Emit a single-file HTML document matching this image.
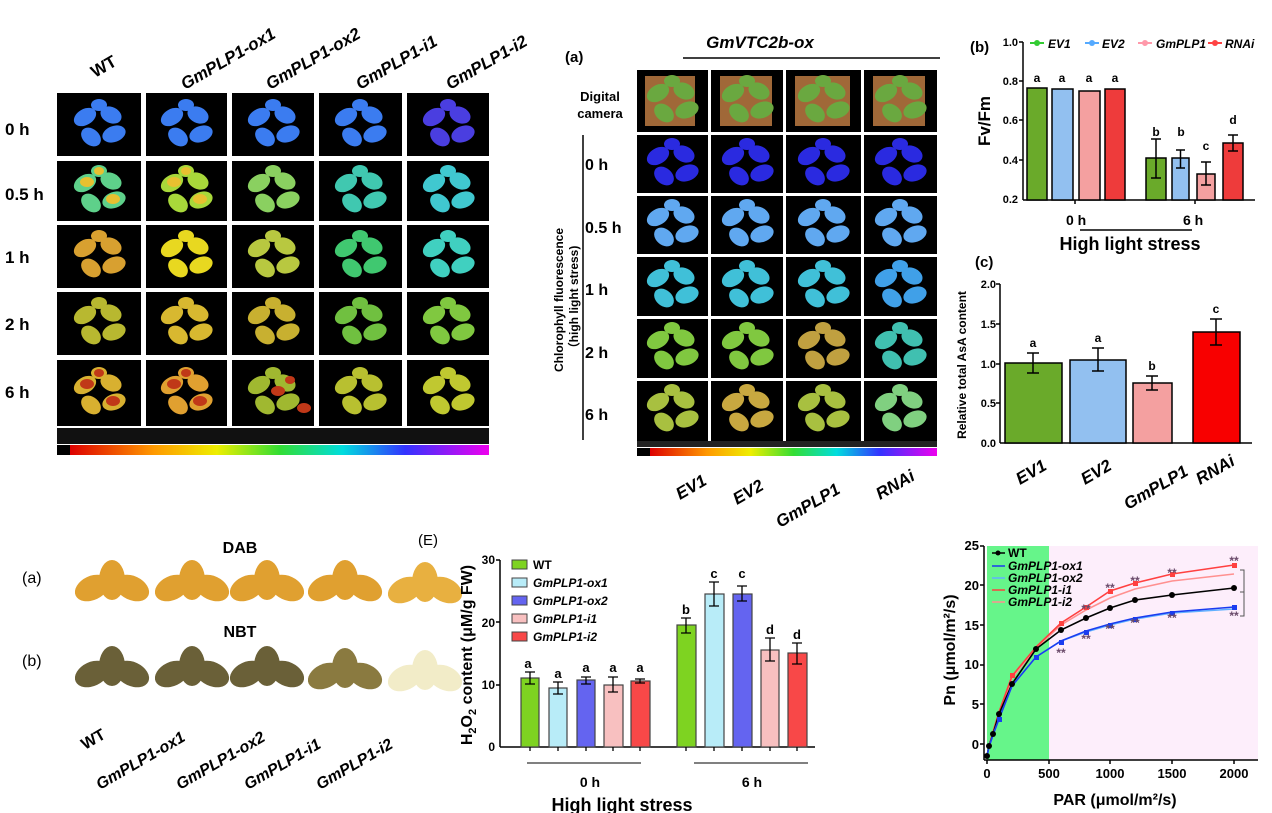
<!DOCTYPE html>
<html><head><meta charset="utf-8"><style>
body{margin:0;background:#fff;}
svg{display:block;font-family:"Liberation Sans",Arial,sans-serif;font-weight:bold;}
</style></head><body>
<svg width="1272" height="813" viewBox="0 0 1272 813" xmlns="http://www.w3.org/2000/svg">
<defs>
<g id="pl"><ellipse cx="-14" cy="-8" rx="12" ry="8" transform="rotate(-30 -14 -8)"/><ellipse cx="12" cy="-10" rx="11" ry="8" transform="rotate(25 12 -10)"/><ellipse cx="-8" cy="12" rx="11" ry="8" transform="rotate(40 -8 12)"/><ellipse cx="15" cy="9" rx="12" ry="8" transform="rotate(-20 15 9)"/><ellipse cx="0" cy="-20" rx="8" ry="6"/></g>
<g id="pl2"><ellipse cx="-12" cy="-9" rx="7" ry="5"/><ellipse cx="14" cy="8" rx="7" ry="5"/><ellipse cx="0" cy="-20" rx="5" ry="4"/></g>
<linearGradient id="rb" x1="0" x2="1"><stop offset="0" stop-color="#d00"/><stop offset=".2" stop-color="#f90"/><stop offset=".35" stop-color="#ee0"/><stop offset=".5" stop-color="#3d3"/><stop offset=".65" stop-color="#0dd"/><stop offset=".8" stop-color="#33f"/><stop offset="1" stop-color="#e0e"/></linearGradient>
<g id="lf"><ellipse cx="-20" cy="4" rx="18" ry="12" transform="rotate(-25 -20 4)"/><ellipse cx="0" cy="-4" rx="13" ry="20"/><ellipse cx="20" cy="4" rx="18" ry="12" transform="rotate(25 20 4)"/></g>
</defs>

<!-- TOP LEFT -->
<g font-size="17" font-style="italic">
<text transform="translate(95,78) rotate(-30)" font-style="normal">WT</text>
<text transform="translate(185,90) rotate(-30)">GmPLP1-ox1</text>
<text transform="translate(270,90) rotate(-30)">GmPLP1-ox2</text>
<text transform="translate(360,90) rotate(-30)">GmPLP1-i1</text>
<text transform="translate(450,90) rotate(-30)">GmPLP1-i2</text>
</g>
<g font-size="17"><text x="5" y="135">0 h</text><text x="5" y="200">0.5 h</text><text x="5" y="263">1 h</text><text x="5" y="330">2 h</text><text x="5" y="398">6 h</text></g>
<g fill="#000">
<rect x="57" y="93" width="84" height="63"/><rect x="146" y="93" width="81" height="63"/><rect x="232" y="93" width="82" height="63"/><rect x="319" y="93" width="83" height="63"/><rect x="407" y="93" width="82" height="63"/>
<rect x="57" y="161" width="84" height="60"/><rect x="146" y="161" width="81" height="60"/><rect x="232" y="161" width="82" height="60"/><rect x="319" y="161" width="83" height="60"/><rect x="407" y="161" width="82" height="60"/>
<rect x="57" y="225" width="84" height="63"/><rect x="146" y="225" width="81" height="63"/><rect x="232" y="225" width="82" height="63"/><rect x="319" y="225" width="83" height="63"/><rect x="407" y="225" width="82" height="63"/>
<rect x="57" y="292" width="84" height="63"/><rect x="146" y="292" width="81" height="63"/><rect x="232" y="292" width="82" height="63"/><rect x="319" y="292" width="83" height="63"/><rect x="407" y="292" width="82" height="63"/>
<rect x="57" y="360" width="84" height="66"/><rect x="146" y="360" width="81" height="66"/><rect x="232" y="360" width="82" height="66"/><rect x="319" y="360" width="83" height="66"/><rect x="407" y="360" width="82" height="66"/>
<rect x="57" y="428" width="432" height="16" fill="#111"/>
</g>
<rect x="70" y="445" width="419" height="10" fill="url(#rb)"/><rect x="57" y="445" width="13" height="10" fill="#000"/>
<g fill="#3b7cf0"><use href="#pl" x="99" y="125"/><use href="#pl" x="186" y="125"/><use href="#pl" x="273" y="125"/><use href="#pl" x="360" y="125"/><use href="#pl" x="448" y="125" fill="#4a3ee0"/></g>
<g fill="#5ed08a"><use href="#pl" x="99" y="191"/><use href="#pl" x="186" y="191" fill="#a8d83a"/><use href="#pl" x="273" y="191" fill="#8ad060"/><use href="#pl" x="360" y="191" fill="#40c8b0"/><use href="#pl" x="448" y="191" fill="#40c8d0"/></g>
<g fill="#e8c030"><use href="#pl2" x="99" y="191"/><use href="#pl2" x="186" y="191"/></g>
<g fill="#b8c840"><use href="#pl" x="99" y="256" fill="#d8a030"/><use href="#pl" x="186" y="256" fill="#e8d820"/><use href="#pl" x="273" y="256"/><use href="#pl" x="360" y="256" fill="#40c870"/><use href="#pl" x="448" y="256" fill="#40d0c0"/></g>
<g fill="#b8b830"><use href="#pl" x="99" y="323"/><use href="#pl" x="186" y="323" fill="#d8b830"/><use href="#pl" x="273" y="323" fill="#c8b030"/><use href="#pl" x="360" y="323" fill="#70c040"/><use href="#pl" x="448" y="323" fill="#80c840"/></g>
<g fill="#d8b030"><use href="#pl" x="99" y="393"/><use href="#pl" x="186" y="393" fill="#e0a030"/><use href="#pl" x="273" y="393" fill="#a0b830"/><use href="#pl" x="360" y="393" fill="#b8c030"/><use href="#pl" x="448" y="393" fill="#c0c830"/></g>
<g fill="#c03818"><use href="#pl2" x="99" y="393"/><use href="#pl2" x="186" y="393"/><use href="#pl2" x="290" y="400"/></g>

<!-- TOP MIDDLE -->
<text x="565" y="62" font-size="15">(a)</text>
<text x="760" y="48" font-size="17" font-style="italic" text-anchor="middle">GmVTC2b-ox</text>
<line x1="683" y1="58" x2="940" y2="58" stroke="#000" stroke-width="1.5"/>
<text x="600" y="101" font-size="13" text-anchor="middle">Digital</text><text x="600" y="118" font-size="13" text-anchor="middle">camera</text>
<g font-size="16"><text x="585" y="170">0 h</text><text x="585" y="233">0.5 h</text><text x="585" y="295">1 h</text><text x="585" y="358">2 h</text><text x="585" y="420">6 h</text></g>
<line x1="583" y1="135" x2="583" y2="440" stroke="#000" stroke-width="1.5"/>
<text transform="translate(563,300) rotate(-90)" font-size="12" text-anchor="middle">Chlorophyll fluorescence</text>
<text transform="translate(578,300) rotate(-90)" font-size="12" text-anchor="middle">（high light stress)</text>
<g fill="#000">
<rect x="637" y="70" width="71" height="62"/><rect x="711" y="70" width="72" height="62"/><rect x="786" y="70" width="75" height="62"/><rect x="864" y="70" width="73" height="62"/>
<rect x="637" y="135" width="71" height="58"/><rect x="711" y="135" width="72" height="58"/><rect x="786" y="135" width="75" height="58"/><rect x="864" y="135" width="73" height="58"/>
<rect x="637" y="196" width="71" height="58"/><rect x="711" y="196" width="72" height="58"/><rect x="786" y="196" width="75" height="58"/><rect x="864" y="196" width="73" height="58"/>
<rect x="637" y="257" width="71" height="59"/><rect x="711" y="257" width="72" height="59"/><rect x="786" y="257" width="75" height="59"/><rect x="864" y="257" width="73" height="59"/>
<rect x="637" y="319" width="71" height="59"/><rect x="711" y="319" width="72" height="59"/><rect x="786" y="319" width="75" height="59"/><rect x="864" y="319" width="73" height="59"/>
<rect x="637" y="381" width="71" height="60"/><rect x="711" y="381" width="72" height="60"/><rect x="786" y="381" width="75" height="60"/><rect x="864" y="381" width="73" height="60"/>
</g>
<g fill="#a06838"><rect x="645" y="76" width="50" height="50"/><rect x="720" y="76" width="52" height="50"/><rect x="795" y="76" width="55" height="50"/><rect x="873" y="76" width="52" height="50"/></g>
<g fill="#6aa840"><use href="#pl" x="672" y="101"/><use href="#pl" x="747" y="101"/><use href="#pl" x="823" y="101"/><use href="#pl" x="900" y="101"/></g>
<g fill="#2a2ae0"><use href="#pl" x="672" y="164"/><use href="#pl" x="747" y="164"/><use href="#pl" x="823" y="164"/><use href="#pl" x="900" y="164"/></g>
<g fill="#60a8f0"><use href="#pl" x="672" y="225"/><use href="#pl" x="747" y="225"/><use href="#pl" x="823" y="225"/><use href="#pl" x="900" y="225"/></g>
<g fill="#40c0d8"><use href="#pl" x="672" y="286"/><use href="#pl" x="747" y="286"/><use href="#pl" x="823" y="286"/><use href="#pl" x="900" y="286" fill="#40a0e8"/></g>
<g fill="#80c840"><use href="#pl" x="672" y="348"/><use href="#pl" x="747" y="348"/><use href="#pl" x="823" y="348" fill="#c0a040"/><use href="#pl" x="900" y="348" fill="#40c0b0"/></g>
<g fill="#a8c040"><use href="#pl" x="672" y="410"/><use href="#pl" x="747" y="410" fill="#c8a840"/><use href="#pl" x="823" y="410"/><use href="#pl" x="900" y="410" fill="#80d080"/></g>
<rect x="637" y="441" width="300" height="6" fill="#222"/>
<rect x="650" y="448" width="287" height="8" fill="url(#rb)"/><rect x="637" y="448" width="13" height="8" fill="#000"/>
<g font-size="17" font-style="italic">
<text transform="translate(680,500) rotate(-30)">EV1</text>
<text transform="translate(737,505) rotate(-30)">EV2</text>
<text transform="translate(780,528) rotate(-30)">GmPLP1</text>
<text transform="translate(880,500) rotate(-30)">RNAi</text>
</g>

<!-- CHART b -->
<text x="970" y="52" font-size="15">(b)</text>
<g font-size="12" font-style="italic">
<line x1="1030" y1="43" x2="1044" y2="43" stroke="#3c3" stroke-width="2"/><circle cx="1037" cy="43" r="3" fill="#3c3"/><text x="1048" y="48">EV1</text>
<line x1="1085" y1="43" x2="1099" y2="43" stroke="#5af" stroke-width="2"/><circle cx="1092" cy="43" r="3" fill="#5af"/><text x="1102" y="48">EV2</text>
<line x1="1138" y1="43" x2="1152" y2="43" stroke="#f9a" stroke-width="2"/><circle cx="1145" cy="43" r="3" fill="#f9a"/><text x="1156" y="48">GmPLP1</text>
<line x1="1208" y1="43" x2="1222" y2="43" stroke="#f44" stroke-width="2"/><circle cx="1215" cy="43" r="3" fill="#f44"/><text x="1225" y="48">RNAi</text>
</g>
<text transform="translate(990,121) rotate(-90)" font-size="17" text-anchor="middle">Fv/Fm</text>
<g font-size="11" text-anchor="end"><text x="1018" y="46">1.0</text><text x="1018" y="85">0.8</text><text x="1018" y="124">0.6</text><text x="1018" y="164">0.4</text><text x="1018" y="203">0.2</text></g>
<g stroke="#000" stroke-width="1.5"><line x1="1023" y1="42" x2="1023" y2="200"/><line x1="1019" y1="42" x2="1023" y2="42"/><line x1="1019" y1="81" x2="1023" y2="81"/><line x1="1019" y1="120" x2="1023" y2="120"/><line x1="1019" y1="160" x2="1023" y2="160"/><line x1="1023" y1="200" x2="1255" y2="200"/><line x1="1075" y1="200" x2="1075" y2="204"/><line x1="1195" y1="200" x2="1195" y2="204"/></g>
<g stroke="#000" stroke-width="1.5">
<rect x="1027" y="88" width="20" height="112" fill="#6aaa2a"/><rect x="1052" y="89" width="21" height="111" fill="#92c0f0"/><rect x="1079" y="91" width="21" height="109" fill="#f4a0a0"/><rect x="1105" y="89" width="20" height="111" fill="#ee3b3b"/>
<rect x="1146" y="158" width="20" height="42" fill="#6aaa2a"/><rect x="1172" y="158" width="17" height="42" fill="#92c0f0"/><rect x="1197" y="174" width="18" height="26" fill="#f4a0a0"/><rect x="1223" y="143" width="20" height="57" fill="#ee3b3b"/>
<path d="M1156 139V178M1151 139h10M1151 178h10M1180.5 150V168M1176 150h9M1176 168h9M1206 162V185M1201 162h10M1201 185h10M1233 135V151M1228 135h10M1228 151h10" fill="none"/>
</g>
<g font-size="12" text-anchor="middle"><text x="1037" y="82">a</text><text x="1062" y="82">a</text><text x="1089" y="82">a</text><text x="1115" y="82">a</text><text x="1156" y="136">b</text><text x="1181" y="136">b</text><text x="1206" y="150">c</text><text x="1233" y="124">d</text></g>
<text x="1066" y="225" font-size="14">0 h</text><text x="1183" y="225" font-size="14">6 h</text>
<line x1="1080" y1="230" x2="1192" y2="230" stroke="#000" stroke-width="1.5"/>
<text x="1130" y="250" font-size="18" text-anchor="middle">High light stress</text>

<!-- CHART c -->
<text x="975" y="267" font-size="15">(c)</text>
<text transform="translate(966,365) rotate(-90)" font-size="12" text-anchor="middle">Relative total AsA content</text>
<g font-size="11" text-anchor="end"><text x="996" y="288">2.0</text><text x="996" y="328">1.5</text><text x="996" y="368">1.0</text><text x="996" y="407">0.5</text><text x="996" y="447">0.0</text></g>
<g stroke="#000" stroke-width="1.5"><line x1="1000" y1="284" x2="1000" y2="443"/><line x1="996" y1="284" x2="1000" y2="284"/><line x1="996" y1="324" x2="1000" y2="324"/><line x1="996" y1="364" x2="1000" y2="364"/><line x1="996" y1="403" x2="1000" y2="403"/><line x1="1000" y1="443" x2="1252" y2="443"/></g>
<g stroke="#000" stroke-width="1.5">
<rect x="1005" y="363" width="57" height="80" fill="#6aaa2a"/><rect x="1070" y="360" width="56" height="83" fill="#92c0f0"/><rect x="1133" y="383" width="39" height="60" fill="#f4a0a0"/><rect x="1193" y="332" width="47" height="111" fill="#f80000"/>
<path d="M1033 353V373M1027 353h12M1027 373h12M1098 348V371M1092 348h12M1092 371h12M1152 376V390M1146 376h12M1146 390h12M1216 319V345M1210 319h12M1210 345h12" fill="none"/>
</g>
<g font-size="12" text-anchor="middle"><text x="1033" y="347">a</text><text x="1098" y="342">a</text><text x="1152" y="370">b</text><text x="1216" y="313">c</text></g>
<g font-size="17" font-style="italic">
<text transform="translate(1020,485) rotate(-30)">EV1</text>
<text transform="translate(1085,485) rotate(-30)">EV2</text>
<text transform="translate(1128,510) rotate(-30)">GmPLP1</text>
<text transform="translate(1200,485) rotate(-30)">RNAi</text>
</g>

<!-- BOTTOM LEFT -->
<text x="240" y="553" font-size="16" text-anchor="middle">DAB</text>
<text x="22" y="583" font-size="16" font-weight="normal">(a)</text>
<g fill="#e0a030"><use href="#lf" x="112" y="584"/><use href="#lf" x="192" y="584"/><use href="#lf" x="267" y="584"/><use href="#lf" x="345" y="584"/><use href="#lf" x="425" y="586" fill="#e8b040"/></g>
<text x="240" y="637" font-size="16" text-anchor="middle">NBT</text>
<text x="22" y="666" font-size="16" font-weight="normal">(b)</text>
<g fill="#6a6038"><use href="#lf" x="112" y="670"/><use href="#lf" x="192" y="670"/><use href="#lf" x="267" y="670"/><use href="#lf" x="345" y="672" fill="#8a7a40"/><use href="#lf" x="425" y="674" fill="#f2ecc8"/></g>
<g font-size="16" font-style="italic">
<text transform="translate(85,750) rotate(-30)" font-style="normal">WT</text>
<text transform="translate(100,790) rotate(-30)">GmPLP1-ox1</text>
<text transform="translate(180,790) rotate(-30)">GmPLP1-ox2</text>
<text transform="translate(248,790) rotate(-30)">GmPLP1-i1</text>
<text transform="translate(320,790) rotate(-30)">GmPLP1-i2</text>
</g>

<!-- CHART E -->
<text x="418" y="545" font-size="15" font-weight="normal">(E)</text>
<text transform="translate(472,655) rotate(-90)" font-size="16" text-anchor="middle">H<tspan font-size="11" dy="4">2</tspan><tspan dy="-4">O</tspan><tspan font-size="11" dy="4">2</tspan><tspan dy="-4"> content (μM/g FW)</tspan></text>
<g font-size="12" text-anchor="end"><text x="495" y="564">30</text><text x="495" y="627">20</text><text x="495" y="689">10</text><text x="495" y="751">0</text></g>
<g stroke="#000" stroke-width="1.5"><line x1="500" y1="560" x2="500" y2="747"/><line x1="496" y1="560" x2="500" y2="560"/><line x1="496" y1="622" x2="500" y2="622"/><line x1="496" y1="685" x2="500" y2="685"/><line x1="500" y1="747" x2="815" y2="747"/></g>
<g stroke="#444" stroke-width="1.2">
<rect x="521" y="678" width="18" height="69" fill="#7ed321"/><rect x="549" y="688" width="18" height="59" fill="#b8ecf8"/><rect x="577" y="680" width="18" height="67" fill="#6464f0"/><rect x="604" y="685" width="19" height="62" fill="#f8c0c0"/><rect x="631" y="681" width="19" height="66" fill="#f84848"/>
<rect x="677" y="625" width="19" height="122" fill="#7ed321"/><rect x="705" y="594" width="19" height="153" fill="#b8ecf8"/><rect x="733" y="594" width="19" height="153" fill="#6464f0"/><rect x="761" y="650" width="18" height="97" fill="#f8c0c0"/><rect x="788" y="653" width="19" height="94" fill="#f84848"/>
</g>
<g stroke="#000" stroke-width="1.3" fill="none"><path d="M530 672V684M525 672h10M525 684h10M558 682V694M553 682h10M553 694h10M586 677V684M581 677h10M581 684h10M613 677V692M608 677h10M608 692h10M640 679V683M635 679h10M635 683h10M686 618V633M681 618h10M681 633h10M714 582V606M709 582h10M709 606h10M742 586V601M737 586h10M737 601h10M770 638V661M765 638h10M765 661h10M797 643V664M792 643h10M792 664h10"/>
<path d="M530 747v4M558 747v4M586 747v4M613 747v4M640 747v4M686 747v4M714 747v4M742 747v4M770 747v4M797 747v4"/></g>
<g font-size="13" text-anchor="middle"><text x="528" y="668">a</text><text x="558" y="678">a</text><text x="586" y="672">a</text><text x="613" y="672">a</text><text x="640" y="672">a</text><text x="686" y="614">b</text><text x="714" y="578">c</text><text x="742" y="578">c</text><text x="770" y="634">d</text><text x="797" y="639">d</text></g>
<g font-size="12" stroke="#444" stroke-width="1">
<rect x="512" y="560" width="15" height="9" fill="#7ed321"/><rect x="512" y="578" width="15" height="9" fill="#b8ecf8"/><rect x="512" y="596" width="15" height="9" fill="#6464f0"/><rect x="512" y="614" width="15" height="9" fill="#f8c0c0"/><rect x="512" y="632" width="15" height="9" fill="#f84848"/>
</g>
<g font-size="12"><text x="533" y="569">WT</text><g font-style="italic"><text x="533" y="587">GmPLP1-ox1</text><text x="533" y="605">GmPLP1-ox2</text><text x="533" y="623">GmPLP1-i1</text><text x="533" y="641">GmPLP1-i2</text></g></g>
<line x1="527" y1="763" x2="641" y2="763" stroke="#000"/><line x1="694" y1="763" x2="808" y2="763" stroke="#000"/>
<text x="590" y="787" font-size="14" text-anchor="middle">0 h</text><text x="752" y="787" font-size="14" text-anchor="middle">6 h</text>
<text x="622" y="811" font-size="18" text-anchor="middle">High light stress</text>

<!-- CHART Pn -->
<rect x="987" y="546" width="62" height="214" fill="#66f58a"/>
<rect x="1049" y="546" width="209" height="214" fill="#fdeefb"/>
<text transform="translate(955,650) rotate(-90)" font-size="16" text-anchor="middle">Pn (μmol/m²/s)</text>
<g font-size="13" text-anchor="end"><text x="979" y="550">25</text><text x="979" y="590">20</text><text x="979" y="630">15</text><text x="979" y="669">10</text><text x="979" y="709">5</text><text x="979" y="749">0</text></g>
<g stroke="#000" stroke-width="1.5"><line x1="984" y1="546" x2="984" y2="760"/><line x1="980" y1="546" x2="984" y2="546"/><line x1="980" y1="585" x2="984" y2="585"/><line x1="980" y1="625" x2="984" y2="625"/><line x1="980" y1="665" x2="984" y2="665"/><line x1="980" y1="704" x2="984" y2="704"/><line x1="980" y1="744" x2="984" y2="744"/><line x1="984" y1="760" x2="1258" y2="760"/>
<path d="M987 760v4M1049 760v4M1110 760v4M1172 760v4M1234 760v4" fill="none"/></g>
<g font-size="13" text-anchor="middle"><text x="987" y="778">0</text><text x="1049" y="778">500</text><text x="1110" y="778">1000</text><text x="1172" y="778">1500</text><text x="1234" y="778">2000</text></g>
<text x="1115" y="805" font-size="16" text-anchor="middle">PAR (μmol/m²/s)</text>
<g fill="none" stroke-width="1.6">
<polyline stroke="#ff9090" points="987,756 989,746 993,733 999,713 1012,678 1036,648 1061,625 1086,610 1110,598 1135,589 1172,581 1234,574"/>
<polyline stroke="#ff4040" points="987,756 989,746 993,732 999,712 1012,676 1036,647 1061,623 1086,607 1110,591 1135,583 1172,574 1234,565"/>
<polyline stroke="#000" points="987,756 989,746 993,734 999,714 1012,684 1036,649 1061,630 1086,618 1110,608 1135,600 1172,595 1234,588"/>
<polyline stroke="#60b0ff" points="987,756 989,747 993,735 999,719 1012,686 1036,657 1061,641 1086,632 1110,625 1135,619 1172,613 1234,609"/>
<polyline stroke="#1a3cf0" points="987,756 989,747 993,735 999,719 1012,686 1036,657 1061,641 1086,631 1110,624 1135,618 1172,612 1234,607"/>
</g>
<g fill="#000"><circle cx="987" cy="756" r="3"/><circle cx="989" cy="746" r="3"/><circle cx="993" cy="734" r="3"/><circle cx="999" cy="714" r="3"/><circle cx="1012" cy="684" r="3"/><circle cx="1036" cy="649" r="3"/><circle cx="1061" cy="630" r="3"/><circle cx="1086" cy="618" r="3"/><circle cx="1110" cy="608" r="3"/><circle cx="1135" cy="600" r="3"/><circle cx="1172" cy="595" r="3"/><circle cx="1234" cy="588" r="3"/></g>
<g fill="#ff4040"><rect x="1010" y="673" width="5" height="5"/><rect x="1059" y="621" width="5" height="5"/><rect x="1084" y="605" width="5" height="5"/><rect x="1108" y="589" width="5" height="5"/><rect x="1133" y="581" width="5" height="5"/><rect x="1170" y="572" width="5" height="5"/><rect x="1232" y="563" width="5" height="5"/></g>
<g fill="#1a3cf0"><rect x="997" y="717" width="5" height="5"/><rect x="1034" y="655" width="5" height="5"/><rect x="1059" y="640" width="5" height="5"/><rect x="1084" y="630" width="5" height="5"/><rect x="1108" y="623" width="5" height="5"/><rect x="1133" y="617" width="5" height="5"/><rect x="1170" y="611" width="5" height="5"/><rect x="1232" y="605" width="5" height="5"/></g>
<path d="M1240 570h4v22h-4M1240 592h4v24h-4" stroke="#555" fill="none"/>
<g font-size="12" fill="#6a4a6a" text-anchor="middle"><text x="1061" y="657">**</text><text x="1086" y="643">**</text><text x="1086" y="613">**</text><text x="1110" y="633">**</text><text x="1110" y="592">**</text><text x="1135" y="627">**</text><text x="1135" y="585">**</text><text x="1172" y="622">**</text><text x="1172" y="577">**</text><text x="1234" y="620">**</text><text x="1234" y="565">**</text></g>
<g font-size="12">
<line x1="992" y1="553" x2="1005" y2="553" stroke="#000" stroke-width="1.5"/><circle cx="998" cy="553" r="2.5"/><text x="1008" y="557">WT</text>
<line x1="992" y1="566" x2="1005" y2="566" stroke="#1a3cf0" stroke-width="1.5"/><text x="1008" y="570" font-style="italic">GmPLP1-ox1</text>
<line x1="992" y1="578" x2="1005" y2="578" stroke="#60b0ff" stroke-width="1.5"/><text x="1008" y="582" font-style="italic">GmPLP1-ox2</text>
<line x1="992" y1="590" x2="1005" y2="590" stroke="#ff4040" stroke-width="1.5"/><text x="1008" y="594" font-style="italic">GmPLP1-i1</text>
<line x1="992" y1="602" x2="1005" y2="602" stroke="#ff9090" stroke-width="1.5"/><text x="1008" y="606" font-style="italic">GmPLP1-i2</text>
</g>
</svg>
</body></html>
